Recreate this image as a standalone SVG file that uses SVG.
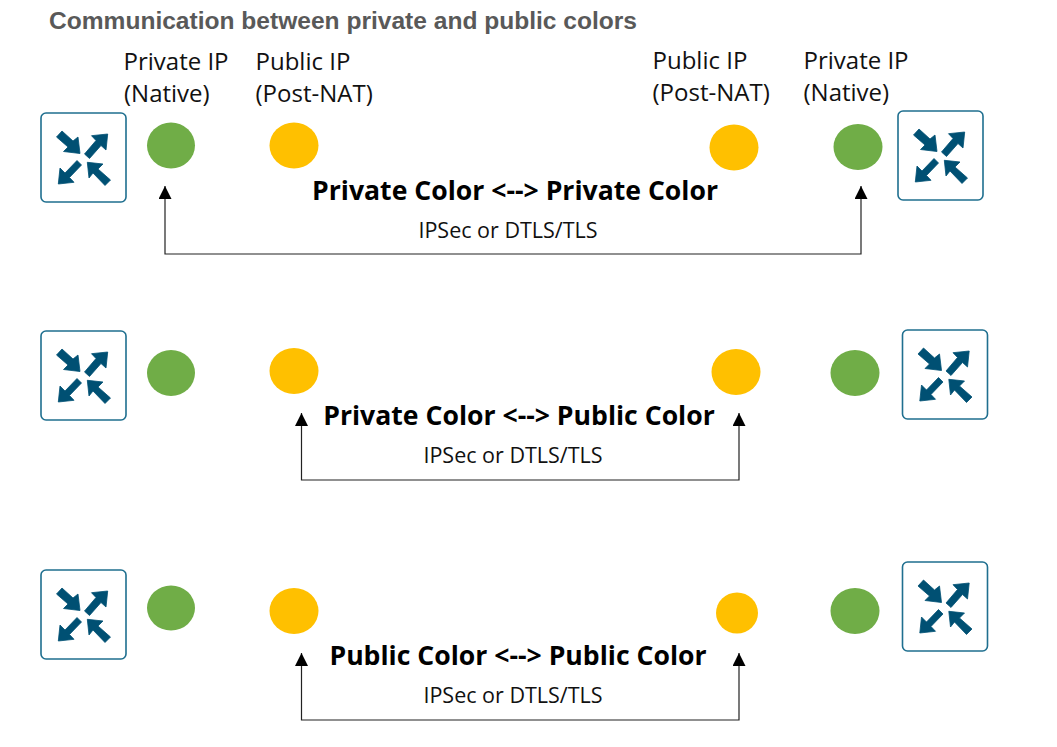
<svg xmlns="http://www.w3.org/2000/svg" width="1057" height="747" viewBox="0 0 1057 747">
<style>
text{font-family:"Open Sans","Noto Sans","Liberation Sans",sans-serif;fill:#111}
.title{font-family:"Liberation Sans",Arial,sans-serif;font-weight:700;font-size:23px;fill:#595959}
.ip{font-size:24px}
.head{font-size:26.600px;font-weight:700;text-anchor:middle;fill:#000}
.sub{font-size:21.500px;text-anchor:middle}
.box{fill:#fff;stroke:#1f6f8f;stroke-width:1.6}
.arr{fill:#005073;stroke:#005073;stroke-width:.8}
.g{fill:#70ad47}
.y{fill:#ffc000}
.c{fill:none;stroke:#222;stroke-width:1.2}
.ah{fill:#000}
</style>
<defs>
<g id="router">
<rect class="box" x="0" y="0" width="85" height="89" rx="5"/>
<polygon class="arr" points="15.500,24 21,18 32,28 37,24 39,40.500 22.500,38.500 27,34"/>
<polygon class="arr" points="66.700,21 65,37 60,32.500 48.500,45.500 43.500,41 55,27.500 50.500,22.700"/>
<polygon class="arr" points="17.300,71 19,55 24,60 36,47.500 40.500,52 28.500,64.500 33,69.300"/>
<polygon class="arr" points="46.300,49.300 62,51 57,56 69.500,67 64,72.500 52,60 48,65"/>
</g>
<marker id="tip" markerWidth="14" markerHeight="14" refX="13" refY="6.500" orient="auto-start-reverse" markerUnits="userSpaceOnUse" viewBox="0 0 14 14"><path d="M0,0 L13,6.500 L0,13 Z" class="ah"/></marker>
</defs>
<text class="title" x="49" y="29" textLength="588" lengthAdjust="spacingAndGlyphs">Communication between private and public colors</text>
<g id="labels">
<text class="ip" x="123.500" y="70">Private IP</text>
<text class="ip" x="124" y="102">(Native)</text>
<text class="ip" x="255.500" y="70">Public IP</text>
<text class="ip" x="255.500" y="102">(Post-NAT)</text>
<text class="ip" x="652.500" y="69">Public IP</text>
<text class="ip" x="652.500" y="101">(Post-NAT)</text>
<text class="ip" x="803.500" y="69">Private IP</text>
<text class="ip" x="803.500" y="101">(Native)</text>
</g>
<g id="row1">
<use id="r1-left" href="#router" x="41" y="113"/>
<use id="r1-right" href="#router" x="898" y="111"/>
<ellipse id="r1-g1" class="g" cx="171" cy="145.500" rx="24" ry="23"/>
<ellipse id="r1-y1" class="y" cx="294" cy="145.500" rx="24.500" ry="23"/>
<ellipse id="r1-y2" class="y" cx="734" cy="147.500" rx="24.500" ry="23"/>
<ellipse id="r1-g2" class="g" cx="858" cy="147" rx="24.500" ry="23"/>
<text class="head" x="515" y="200">Private Color &lt;--&gt; Private Color</text>
<text class="sub" x="508" y="238">IPSec or DTLS/TLS</text>
</g>
<g id="row2">
<use id="r2-left" href="#router" x="41" y="331"/>
<use id="r2-right" href="#router" x="902.500" y="330"/>
<ellipse id="r2-g1" class="g" cx="171" cy="373" rx="24" ry="23"/>
<ellipse id="r2-y1" class="y" cx="294" cy="371" rx="24.500" ry="23"/>
<ellipse id="r2-y2" class="y" cx="736" cy="372" rx="24.500" ry="23"/>
<ellipse id="r2-g2" class="g" cx="855" cy="373" rx="24.500" ry="23"/>
<text class="head" x="519" y="425">Private Color &lt;--&gt; Public Color</text>
<text class="sub" x="513" y="463">IPSec or DTLS/TLS</text>
</g>
<g id="row3">
<use id="r3-left" href="#router" x="41" y="570"/>
<use id="r3-right" href="#router" x="902.500" y="562"/>
<ellipse id="r3-g1" class="g" cx="171" cy="608" rx="24" ry="22.500"/>
<ellipse id="r3-y1" class="y" cx="294" cy="611" rx="24.500" ry="23"/>
<ellipse id="r3-y2" class="y" cx="737" cy="613" rx="21" ry="20.500"/>
<ellipse id="r3-g2" class="g" cx="855" cy="611" rx="24.500" ry="23"/>
<text class="head" x="518" y="665">Public Color &lt;--&gt; Public Color</text>
<text class="sub" x="513" y="703">IPSec or DTLS/TLS</text>
</g>
<g id="connectors">
<path class="c" marker-start="url(#tip)" marker-end="url(#tip)" d="M165,186 V254 H861 V186"/>
<path class="c" marker-start="url(#tip)" marker-end="url(#tip)" d="M301.500,413 V480 H739 V413"/>
<path class="c" marker-start="url(#tip)" marker-end="url(#tip)" d="M301.500,653 V720 H739 V653"/>
</g>
</svg>
